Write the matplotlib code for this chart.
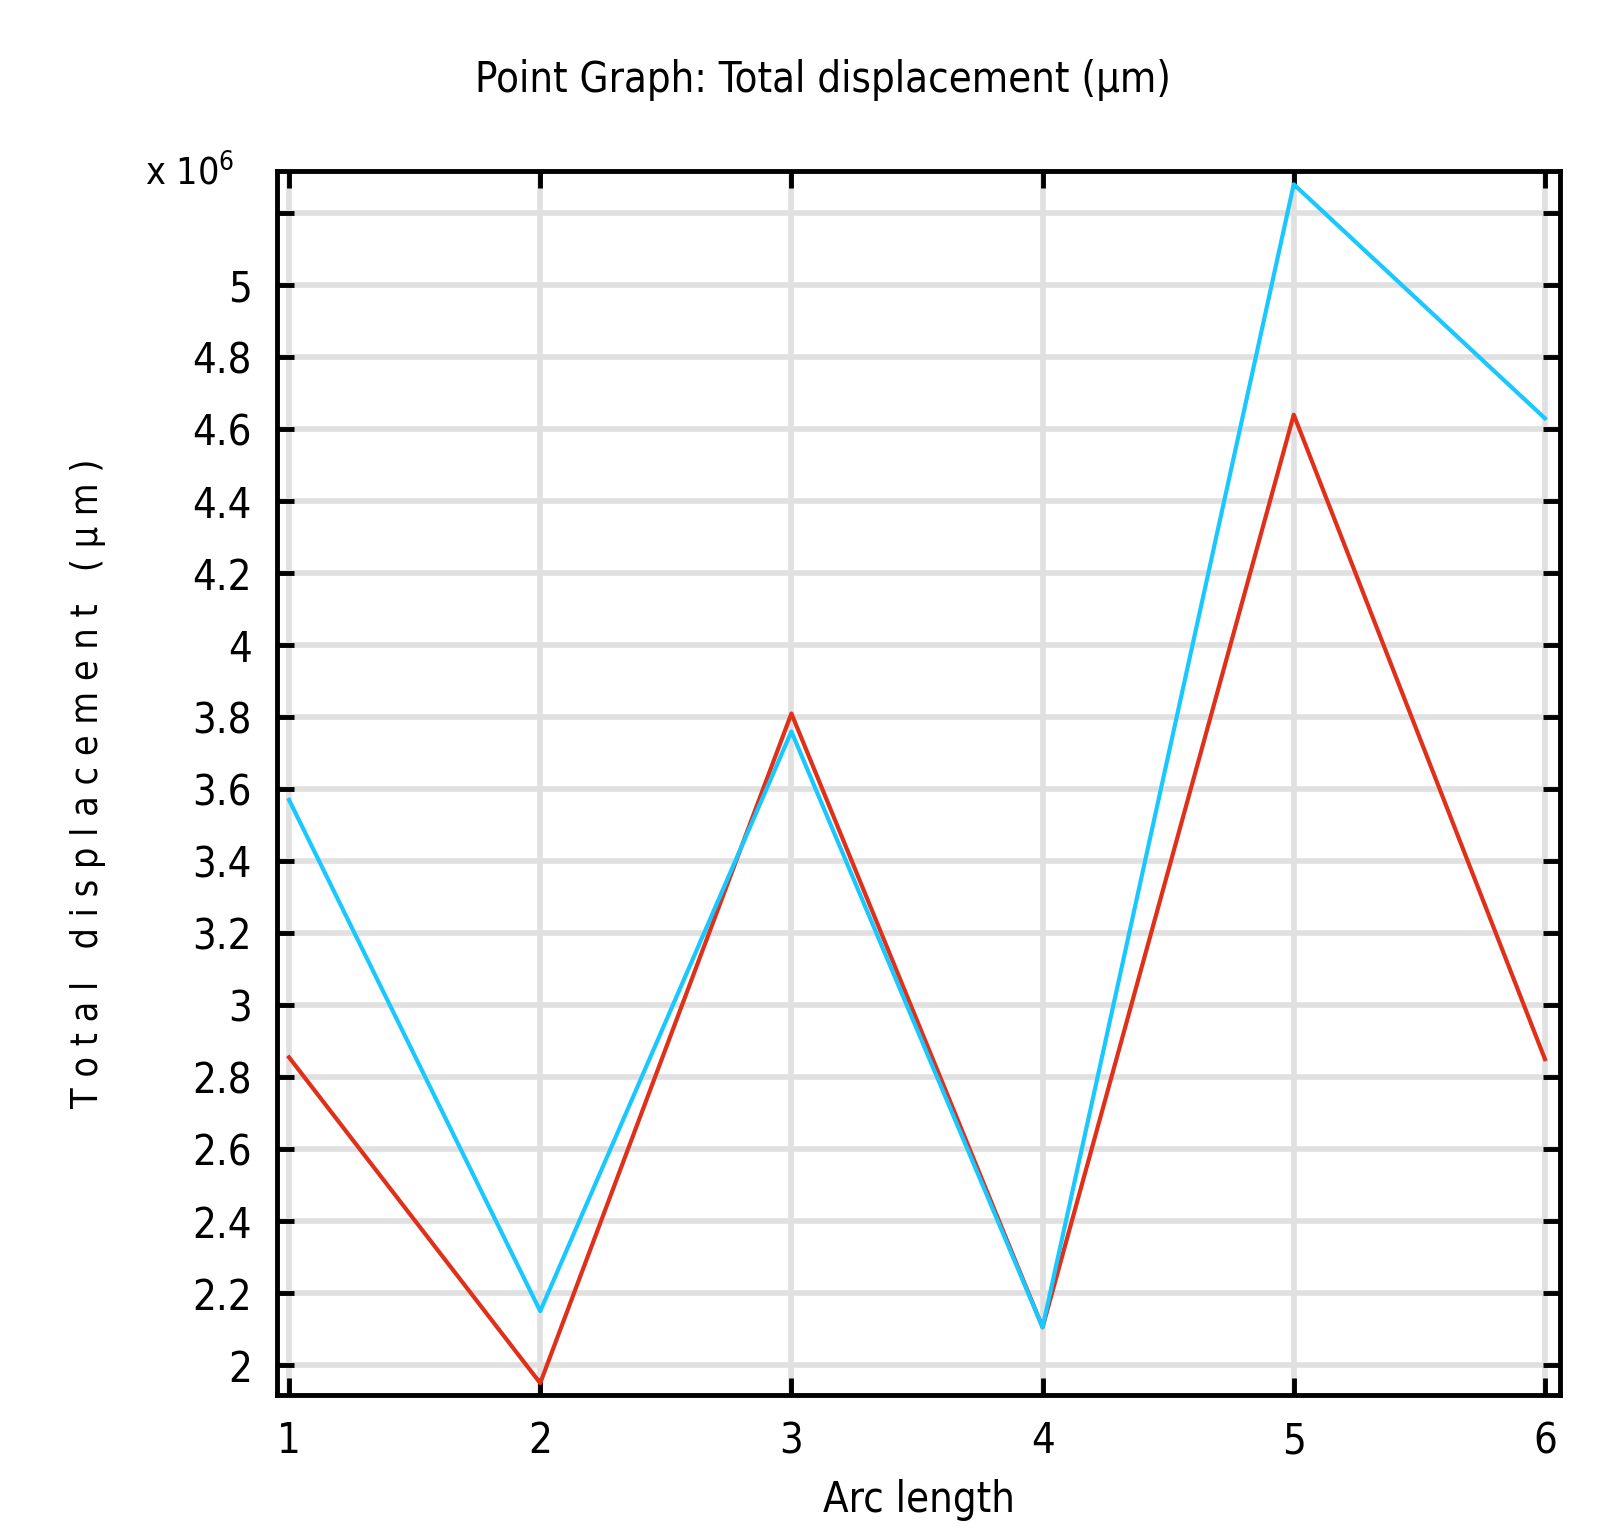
import numpy as np
import matplotlib
matplotlib.use("Agg")
import matplotlib.pyplot as plt
from matplotlib.ticker import FixedLocator, FuncFormatter

# data (values in units of 1e6 um)
arc_length = [1, 2, 3, 4, 5, 6]
disp_blue = [3.57, 2.15, 3.76, 2.105, 5.28, 4.63]
disp_red = [2.855, 1.95, 3.81, 2.105, 4.64, 2.85]
yticks = [2.0, 2.2, 2.4, 2.6, 2.8, 3.0, 3.2, 3.4, 3.6, 3.8, 4.0,
          4.2, 4.4, 4.6, 4.8, 5.0, 5.2]
xticks = [1, 2, 3, 4, 5, 6]

plt.rcParams['font.family'] = ['DejaVu Sans']
plt.rcParams['font.stretch'] = 'condensed'

fig = plt.figure(figsize=(16.04, 15.31), dpi=100)
ax = fig.add_axes([277/1604, 1 - 1395/1531, (1560-277)/1604, (1395-171)/1531])

ax.plot(arc_length, disp_red, color='#e0301a', lw=3.0, zorder=3)
ax.plot(arc_length, disp_blue, color='#18c8ff', lw=3.0, zorder=4)

ax.set_xlim(0.952, 6.06)
ax.set_ylim(1.917, 5.317)

ax.xaxis.set_major_locator(FixedLocator(xticks))
ax.yaxis.set_major_locator(FixedLocator(yticks))
ax.yaxis.set_major_formatter(FuncFormatter(lambda v, p: '' if v > 5.1 else '%g' % v))
ax.grid(True, color='#e0e0e0', lw=4, zorder=0)
ax.set_axisbelow(True)

for s in ax.spines.values():
    s.set_linewidth(3.5)
ax.tick_params(direction='in', length=12, width=3.5, top=True, right=True,
               labelsize=30, pad=18)

# title sits a bit left of the axes centre in the original
fig.text(823/1604, 1 - 80/1531, 'Point Graph: Total displacement (µm)',
         fontsize=30, ha='center', va='center')
ax.set_xlabel('Arc length', fontsize=30, labelpad=12)
ax.set_ylabel('T o t a l   d i s p l a c e m e n t   ( µ m )', fontsize=27, labelpad=62)
fig.text(145/1604, 1 - 185/1531, r'x 10$^{6}$', fontsize=27, va='baseline')

fig.savefig('out.png', dpi=100)
